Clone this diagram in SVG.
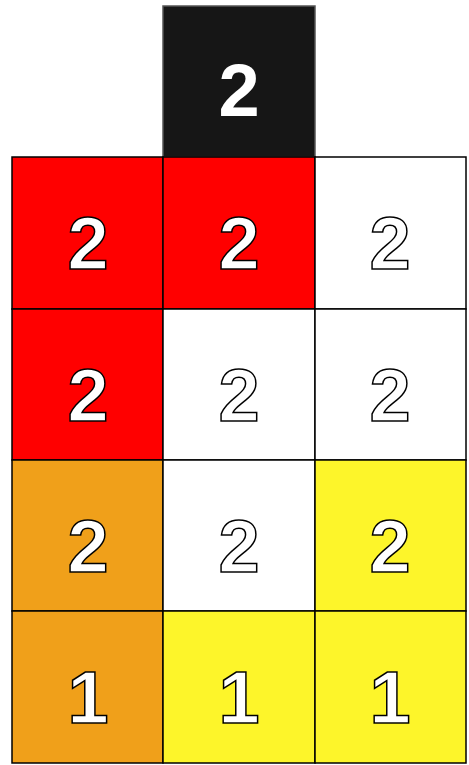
<svg xmlns="http://www.w3.org/2000/svg" width="469" height="765" viewBox="0 0 469 765">
<style>
.c{stroke:#000;stroke-width:1.5}
.t{font-family:"Liberation Sans",Arial,sans-serif;font-weight:bold;font-size:74px;fill:#fff;stroke:#000;stroke-width:1.5;text-anchor:middle}
.r{fill:#ff0000}.o{fill:#f0a01a}.y{fill:#fdf52a}.w{fill:#fff}.k{fill:#161616;stroke:#555}
</style>
<rect width="469" height="765" fill="#fff"/>
<g id="cell-top"><rect class="c k" x="163" y="6" width="152" height="151"/><text class="t" x="239" y="116" style="stroke:none">2</text></g>
<g id="r1c1"><rect class="c r" x="12" y="157" width="151" height="152"/><text class="t" x="88" y="269">2</text></g>
<g id="r1c2"><rect class="c r" x="163" y="157" width="152" height="152"/><text class="t" x="239" y="269">2</text></g>
<g id="r1c3"><rect class="c w" x="315" y="157" width="151" height="152"/><text class="t" x="390" y="269">2</text></g>
<g id="r2c1"><rect class="c r" x="12" y="309" width="151" height="151"/><text class="t" x="88" y="421">2</text></g>
<g id="r2c2"><rect class="c w" x="163" y="309" width="152" height="151"/><text class="t" x="239" y="421">2</text></g>
<g id="r2c3"><rect class="c w" x="315" y="309" width="151" height="151"/><text class="t" x="390" y="421">2</text></g>
<g id="r3c1"><rect class="c o" x="12" y="460" width="151" height="151"/><text class="t" x="88" y="572">2</text></g>
<g id="r3c2"><rect class="c w" x="163" y="460" width="152" height="151"/><text class="t" x="239" y="572">2</text></g>
<g id="r3c3"><rect class="c y" x="315" y="460" width="151" height="151"/><text class="t" x="390" y="572">2</text></g>
<g id="r4c1"><rect class="c o" x="12" y="611" width="151" height="152"/><text class="t" x="88" y="723">1</text></g>
<g id="r4c2"><rect class="c y" x="163" y="611" width="152" height="152"/><text class="t" x="239" y="723">1</text></g>
<g id="r4c3"><rect class="c y" x="315" y="611" width="151" height="152"/><text class="t" x="390" y="723">1</text></g>
</svg>
